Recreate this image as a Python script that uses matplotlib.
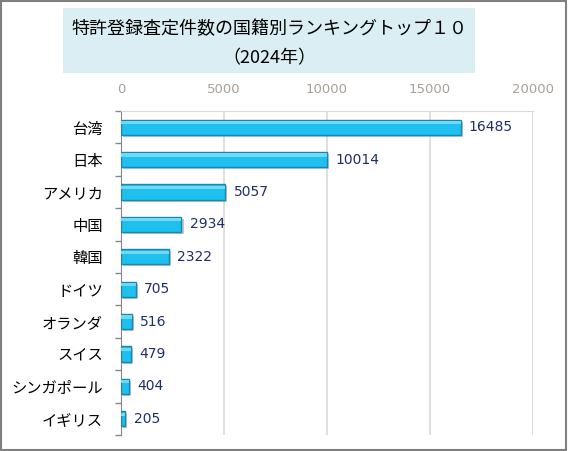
import numpy as np
import matplotlib
matplotlib.use("Agg")
import matplotlib.pyplot as plt
import matplotlib.patheffects as pe
from matplotlib.patches import Rectangle

plt.rcParams['font.family'] = ['Noto Sans CJK JP', 'DejaVu Sans']

# data
countries = ['台湾', '日本', 'アメリカ', '中国', '韓国', 'ドイツ', 'オランダ', 'スイス', 'シンガポール', 'イギリス']
counts = [16485, 10014, 5057, 2934, 2322, 705, 516, 479, 404, 205]
xticks = [0, 5000, 10000, 15000, 20000]
title_lines = ['特許登録査定件数の国籍別ランキングトップ１０', '（2024年）']

fig = plt.figure(figsize=(5.68, 4.51), dpi=100)

# outer border
fig.patches.append(Rectangle((0.001, 0.002), 0.996, 0.996, transform=fig.transFigure,
                             fill=False, edgecolor='#7f7f7f', linewidth=1.5))
# title box
fig.patches.append(Rectangle((63 / 568, 1 - 73 / 451), 412 / 568, 65 / 451,
                             transform=fig.transFigure, facecolor='#daeef3', edgecolor='none'))
fig.text(269 / 568, 1 - 29 / 451, title_lines[0], ha='center', va='center', fontsize=13, color='black')
fig.text(269 / 568, 1 - 58 / 451, title_lines[1], ha='center', va='center', fontsize=13, color='black')

ax = fig.add_axes([121 / 568, 1 - 435 / 451, 412 / 568, 324 / 451])

y = np.arange(len(countries))
ax.barh(y, counts, height=0.47, color='#1fc0ef', edgecolor='#1b86ad', linewidth=1.0,
        path_effects=[pe.SimplePatchShadow(offset=(1.5, -1.5), shadow_rgbFace='#808080', alpha=0.45),
                      pe.Normal()], zorder=3)
# light band on top of each bar
ax.barh(y - 0.14, counts, height=0.1, color='#6fdaf8', edgecolor='none', zorder=4)

for yi, v in zip(y, counts):
    ax.annotate(str(v), (v, yi), xytext=(6, 0), textcoords='offset points',
                ha='left', va='center', fontsize=10, color='#1f2d6b', family='DejaVu Sans')

ax.set_xlim(0, 20000)
ax.set_ylim(len(countries) - 0.5, -0.5)
ax.set_xticks(xticks)
ax.set_xticklabels([str(t) for t in xticks], family='DejaVu Sans', fontsize=9.5, color='#a89f98')
ax.xaxis.tick_top()
ax.tick_params(axis='x', length=0, pad=11)

ax.set_yticks(y)
ax.set_yticklabels(countries, fontsize=11)
ax.set_yticks(np.arange(len(countries) + 1) - 0.5, minor=True)
ax.tick_params(axis='y', which='major', length=0, pad=13)
ax.tick_params(axis='y', which='minor', length=4, color='#868686', width=1)

ax.grid(axis='x', color='#d9d9d9', linewidth=1.2, zorder=0)
ax.set_axisbelow(True)
for side in ['right', 'bottom']:
    ax.spines[side].set_visible(False)
ax.spines['top'].set_color('#d9d9d9')
ax.spines['left'].set_color('#868686')

fig.savefig('out.png', dpi=100)
